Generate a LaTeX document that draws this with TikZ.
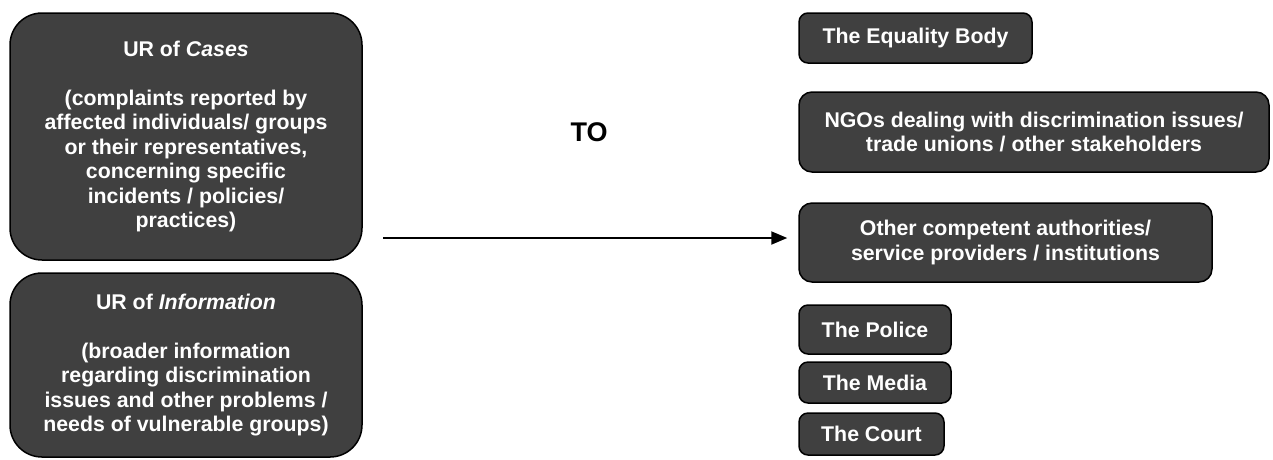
\documentclass[tikz,border=0pt]{standalone}
\usepackage{fontspec}
\setmainfont{Liberation Sans}
\usetikzlibrary{arrows.meta}
\definecolor{boxfill}{RGB}{64,64,64}
\tikzset{
  box/.style={draw=black, line width=1.5pt, fill=boxfill, text=white, inner sep=0pt,
    align=center, font=\fontsize{21.3}{24.5}\selectfont\bfseries},
  bigbox/.style={box, rounded corners=32pt},
  midbox/.style={box, rounded corners=13pt},
  smallbox/.style={box, rounded corners=9pt},
  conn/.style={line width=2pt, -{Triangle[length=16pt,width=13pt]}}
}
\begin{document}
\begin{tikzpicture}[x=1pt,y=-1pt]
\useasboundingbox (0,0) rectangle (1273,459);
\node[bigbox, minimum width=352pt, minimum height=247pt] (cases) at (186,136.5)
  {UR of \textit{Cases}\\[24.5pt](complaints reported by\\affected individuals/ groups\\or their representatives,\\concerning specific\\incidents / policies/\\practices)};
\node[bigbox, minimum width=352pt, minimum height=184pt] (info) at (186,365)
  {UR of \textit{Information}\\[24.5pt](broader information\\regarding discrimination\\issues and other problems /\\needs of vulnerable groups)};
\node[font=\fontsize{27}{30}\selectfont\bfseries, inner sep=0pt] (to) at (589,132) {TO};
\node[smallbox, minimum width=233pt, minimum height=50pt] (eq) at (915.5,38) {The Equality Body};
\node[midbox, minimum width=470pt, minimum height=80pt] (ngo) at (1034,132)
  {NGOs dealing with discrimination issues/\\trade unions / other stakeholders};
\node[midbox, minimum width=413pt, minimum height=79pt] (other) at (1005.5,242.5)
  {Other competent authorities/\\service providers / institutions};
\node[smallbox, minimum width=152pt, minimum height=49pt] (police) at (875,329.5) {The Police};
\node[smallbox, minimum width=152pt, minimum height=41pt] (media) at (875,382.5) {The Media};
\node[smallbox, minimum width=145pt, minimum height=42pt] (court) at (871.5,434) {The Court};
\coordinate (start) at (383,238);
\draw[conn, shorten >=11pt] (start) -- (start -| other.west);
\end{tikzpicture}
\end{document}
